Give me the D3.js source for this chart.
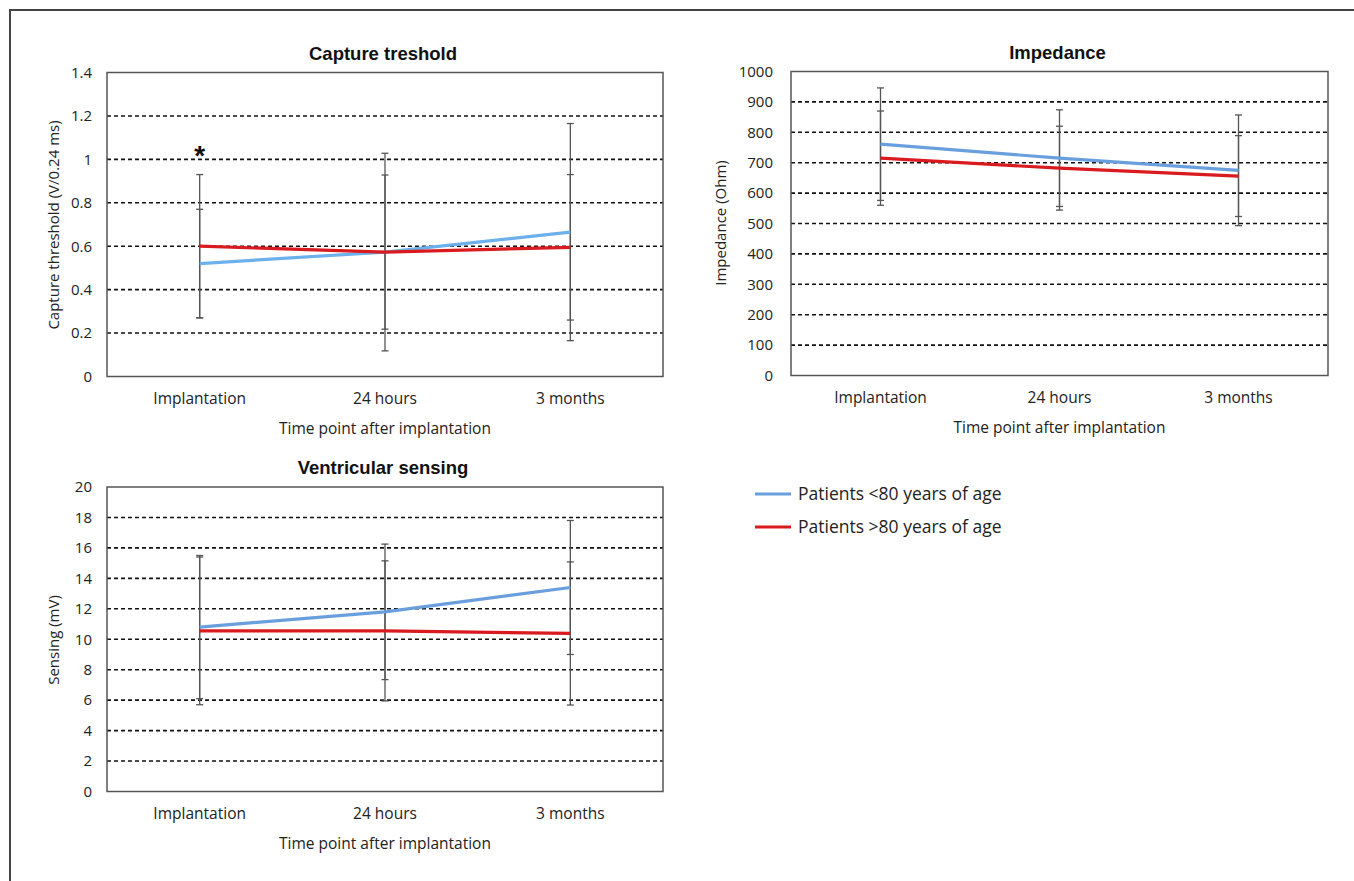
<!DOCTYPE html>
<html>
<head>
<meta charset="utf-8">
<script src="https://cdn.jsdelivr.net/npm/d3@7"></script>
<style>
  body { margin: 0; background: #fff; }
  svg { display: block; }
</style>
</head>
<body>
<svg id="fig" width="1354" height="881"></svg>
<script>
var categories = ["Implantation", "24 hours", "3 months"];
var seriesNames = ["Patients <80 years of age", "Patients >80 years of age"];
var seriesColors = ["#6a9fde", "#d91a1f"];

// capture threshold (V/0.24 ms), mean and SD
var captureYounger = [0.52, 0.573, 0.665];
var captureYoungerSD = [0.25, 0.355, 0.5];
var captureOlder = [0.60, 0.573, 0.595];
var captureOlderSD = [0.33, 0.455, 0.335];
var captureTicks = [0, 0.2, 0.4, 0.6, 0.8, 1, 1.2, 1.4];

// impedance (Ohm)
var impedanceYounger = [761, 715, 675];
var impedanceYoungerSD = [185, 159, 182];
var impedanceOlder = [715, 682, 656];
var impedanceOlderSD = [155, 138, 133];
var impedanceTicks = [0, 100, 200, 300, 400, 500, 600, 700, 800, 900, 1000];

// ventricular sensing (mV)
var sensingYounger = [10.8, 11.8, 13.4];
var sensingYoungerSD = [4.7, 4.45, 4.4];
var sensingOlder = [10.55, 10.55, 10.38];
var sensingOlderSD = [4.85, 4.6, 4.7];
var sensingTicks = [0, 2, 4, 6, 8, 10, 12, 14, 16, 18, 20];

var xTitle = "Time point after implantation";

var font = "'Open Sans', sans-serif";
var svg = d3.select("#fig");

// outer frame (left and top edges visible)
svg.append("path")
  .attr("d", "M10,881 L10,10 L1354,10")
  .attr("fill", "none")
  .attr("stroke", "#444")
  .attr("stroke-width", 2);

function drawPanel(p) {
  var x = d3.scaleBand()
    .domain(categories)
    .range([p.left, p.right]);

  var y = d3.scaleLinear()
    .domain([p.ticks[0], p.ticks[p.ticks.length - 1]])
    .range([p.bottom, p.top]);

  var colors = p.colors || seriesColors;
  var g = svg.append("g");

  // dashed gridlines
  g.append("g")
    .selectAll("line")
    .data(p.ticks.slice(1, -1))
    .enter()
    .append("line")
    .attr("x1", p.left)
    .attr("x2", p.right)
    .attr("y1", function(d) { return y(d); })
    .attr("y2", function(d) { return y(d); })
    .attr("stroke", "#111")
    .attr("stroke-width", 1.6)
    .attr("stroke-dasharray", "4,3");

  // y tick labels
  var yAxis = g.append("g")
    .attr("transform", "translate(" + p.left + ",0)")
    .call(d3.axisLeft(y).tickValues(p.ticks).tickSize(0).tickPadding(p.pad)
      .tickFormat(function(d) { return String(d); }));
  yAxis.select(".domain").remove();
  yAxis.selectAll("text")
    .style("font-family", font)
    .style("font-size", "15px")
    .attr("fill", "#222");

  // x category labels
  var xAxis = g.append("g")
    .attr("transform", "translate(0," + p.bottom + ")")
    .call(d3.axisBottom(x).tickSize(0).tickPadding(16));
  xAxis.select(".domain").remove();
  xAxis.selectAll("text")
    .style("font-family", font)
    .style("font-size", "15.5px")
    .attr("fill", "#222");

  var cx = function(i) { return x(categories[i]) + x.bandwidth() / 2; };

  // error bars
  var bars = [];
  p.series.forEach(function(s) {
    s.mean.forEach(function(m, i) {
      bars.push({ i: i, lo: m - s.sd[i], hi: m + s.sd[i] });
    });
  });
  var eb = g.append("g").attr("stroke", "#555").attr("stroke-width", 1.3);
  eb.selectAll("line.v")
    .data(bars)
    .enter()
    .append("line")
    .attr("x1", function(d) { return cx(d.i); })
    .attr("x2", function(d) { return cx(d.i); })
    .attr("y1", function(d) { return y(d.lo); })
    .attr("y2", function(d) { return y(d.hi); });
  bars.forEach(function(d) {
    [d.lo, d.hi].forEach(function(v) {
      eb.append("line")
        .attr("x1", cx(d.i) - 3.5)
        .attr("x2", cx(d.i) + 3.5)
        .attr("y1", y(v))
        .attr("y2", y(v));
    });
  });

  // series lines
  var line = d3.line()
    .x(function(d, i) { return cx(i); })
    .y(function(d) { return y(d); });
  p.series.forEach(function(s, k) {
    g.append("path")
      .datum(s.mean)
      .attr("d", line)
      .attr("fill", "none")
      .attr("stroke", colors[k])
      .attr("stroke-width", 3.2);
  });

  // plot border
  g.append("rect")
    .attr("x", p.left)
    .attr("y", p.top)
    .attr("width", p.right - p.left)
    .attr("height", p.bottom - p.top)
    .attr("fill", "none")
    .attr("stroke", "#555")
    .attr("stroke-width", 1.5);

  // title
  g.append("text")
    .attr("x", (p.left + p.right) / 2 - 2)
    .attr("y", p.top - 13)
    .attr("text-anchor", "middle")
    .style("font-family", "'Liberation Sans', Arial, sans-serif")
    .style("font-weight", "bold")
    .style("font-size", "18.5px")
    .attr("fill", "#111")
    .text(p.title);

  // x axis title
  g.append("text")
    .attr("x", (p.left + p.right) / 2)
    .attr("y", p.bottom + 57)
    .attr("text-anchor", "middle")
    .style("font-family", font)
    .style("font-size", "15.5px")
    .attr("fill", "#222")
    .text(xTitle);

  // y axis title
  g.append("text")
    .attr("transform", "translate(" + p.yTitleX + "," + p.yTitleY + ") rotate(-90)")
    .attr("text-anchor", "middle")
    .style("font-family", font)
    .style("font-size", "15px")
    .attr("fill", "#222")
    .text(p.yTitle);

  return { x: x, y: y, cx: cx, g: g };
}

var cap = drawPanel({
  title: "Capture treshold",
  yTitle: "Capture threshold (V/0.24 ms)",
  left: 107, right: 663, top: 72.5, bottom: 376.5,
  pad: 15, yTitleX: 59, yTitleY: 225,
  ticks: captureTicks,
  colors: ["#6cb0ec", "#d91a1f"],
  series: [
    { mean: captureYounger, sd: captureYoungerSD },
    { mean: captureOlder, sd: captureOlderSD }
  ]
});

// significance marker
cap.g.append("text")
  .attr("x", cap.cx(0))
  .attr("y", cap.y(1.0) + 6)
  .attr("text-anchor", "middle")
  .style("font-family", "'Liberation Sans', Arial, sans-serif")
  .style("font-weight", "bold")
  .style("font-size", "28px")
  .attr("fill", "#111")
  .text("*");

drawPanel({
  title: "Impedance",
  yTitle: "Impedance (Ohm)",
  left: 791, right: 1328, top: 71.5, bottom: 375.5,
  pad: 18, yTitleX: 726, yTitleY: 223,
  ticks: impedanceTicks,
  series: [
    { mean: impedanceYounger, sd: impedanceYoungerSD },
    { mean: impedanceOlder, sd: impedanceOlderSD }
  ]
});

drawPanel({
  title: "Ventricular sensing",
  yTitle: "Sensing (mV)",
  left: 107, right: 663, top: 487, bottom: 791.5,
  pad: 15, yTitleX: 59, yTitleY: 640,
  ticks: sensingTicks,
  series: [
    { mean: sensingYounger, sd: sensingYoungerSD },
    { mean: sensingOlder, sd: sensingOlderSD }
  ]
});

// legend
var legend = svg.append("g").attr("transform", "translate(755,494)");
var item = legend.selectAll("g")
  .data(seriesNames)
  .enter()
  .append("g")
  .attr("transform", function(d, i) { return "translate(0," + i * 33 + ")"; });
item.append("line")
  .attr("x1", 0).attr("x2", 36)
  .attr("stroke", function(d, i) { return seriesColors[i]; })
  .attr("stroke-width", 3.2);
item.append("text")
  .attr("x", 43)
  .attr("dy", "0.35em")
  .style("font-family", font)
  .style("font-size", "17.5px")
  .attr("fill", "#222")
  .text(function(d) { return d; });
</script>
</body>
</html>
